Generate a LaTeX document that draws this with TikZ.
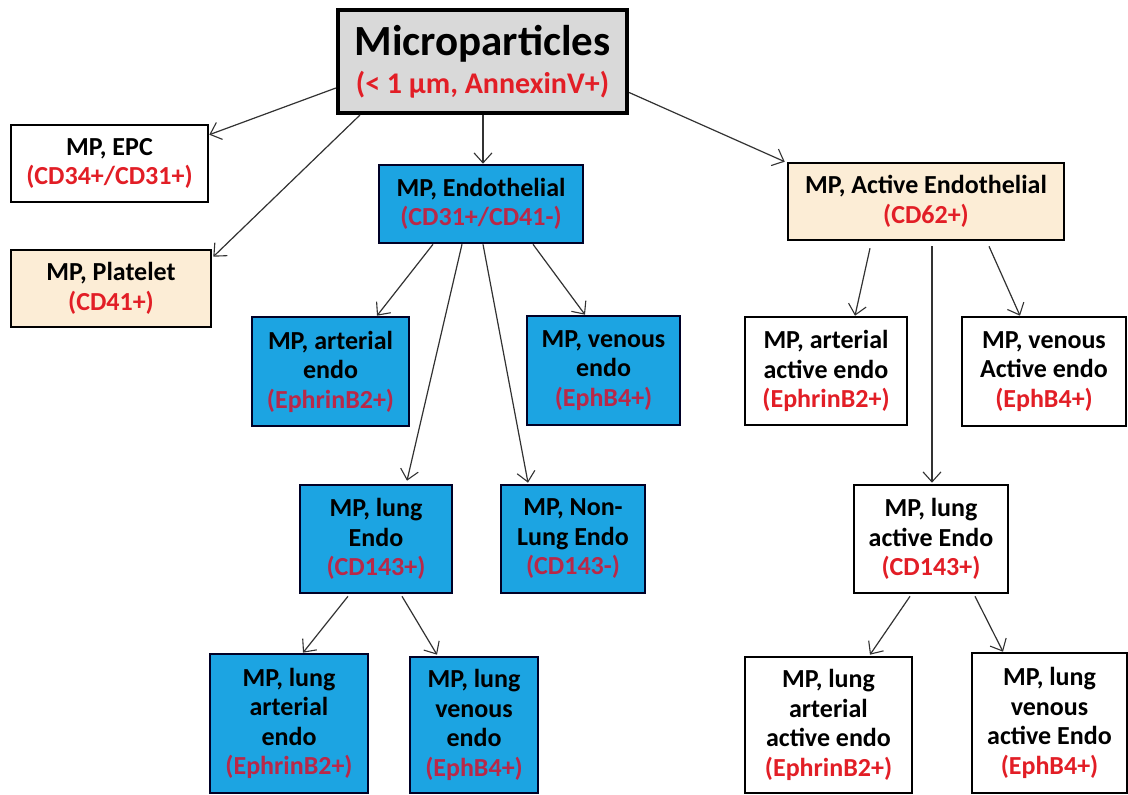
\documentclass[tikz,border=0pt]{standalone}
\usepackage{fontspec}
\setmainfont{Carlito}
\usetikzlibrary{arrows.meta,calc}
\definecolor{bluebox}{RGB}{28,164,226}
\definecolor{creambox}{RGB}{252,237,214}
\definecolor{graybox}{RGB}{217,217,217}
\definecolor{redtxt}{RGB}{226,30,38}
\definecolor{redblue}{RGB}{185,40,72}
\definecolor{arrowcol}{RGB}{50,50,50}
\newcommand{\rt}[1]{\textcolor{redtxt}{#1}}
\newcommand{\rb}[1]{\textcolor{redblue}{#1}}
\tikzset{
  box/.style={draw=black, line width=2.6pt, rectangle, inner sep=0pt, align=center,
    font=\fontsize{26}{29.5}\selectfont\bfseries},
  whitebox/.style={box, fill=white},
  bluefill/.style={box, fill=bluebox, draw=black!85!blue},
  creamfill/.style={box, fill=creambox},
  conn/.style={draw=arrowcol, line width=1.2pt, -{Straight Barb[length=10pt,width=18pt,line width=1.1pt]}}
}
\begin{document}
\begin{tikzpicture}[x=1pt,y=-1pt]
\useasboundingbox[fill=white] (0,0) rectangle (1128,795);
% top
\node[box, fill=graybox, line width=4.2pt, minimum width=289pt, minimum height=103pt] (mp) at (482.5,61.5)
  {{\fontsize{43}{44}\selectfont Microparticles}\\[9pt]{\fontsize{30}{32}\selectfont\rt{(< 1 µm, AnnexinV+)}}};
% left column
\node[whitebox, minimum width=197pt, minimum height=77pt] (epc) at (109.5,163.5)
  {MP, EPC\\\rt{(CD34+/CD31+)}};
\node[creamfill, minimum width=200pt, minimum height=77pt] (plt) at (111,288.5)
  {MP, Platelet\\\rt{(CD41+)}};
% endothelial branch
\node[bluefill, minimum width=204pt, minimum height=78pt] (endo) at (481,204)
  {MP, Endothelial\\\rb{(CD31+/CD41-)}};
\node[bluefill, minimum width=157pt, minimum height=109pt] (art) at (330.5,371.5)
  {MP, arterial\\endo\\\rb{(EphrinB2+)}};
\node[bluefill, minimum width=153pt, minimum height=109pt] (ven) at (603.5,370.5)
  {MP, venous\\endo\\\rb{(EphB4+)}};
\node[bluefill, minimum width=152pt, minimum height=108pt] (lung) at (376,539)
  {MP, lung\\Endo\\\rb{(CD143+)}};
\node[bluefill, minimum width=144pt, minimum height=108pt] (nonlung) at (573,539)
  {MP, Non-\\Lung Endo\\\rb{(CD143-)}};
\node[bluefill, minimum width=158pt, minimum height=139pt] (larte) at (289,723.5)
  {MP, lung\\arterial\\endo\\\rb{(EphrinB2+)}};
\node[bluefill, minimum width=128pt, minimum height=136pt] (lvene) at (474,725)
  {MP, lung\\venous\\endo\\\rb{(EphB4+)}};
% active branch
\node[creamfill, minimum width=276pt, minimum height=77pt] (act) at (926,201.5)
  {MP, Active Endothelial\\\rt{(CD62+)}};
\node[whitebox, minimum width=162pt, minimum height=108pt] (aact) at (826,371)
  {MP, arterial\\active endo\\\rt{(EphrinB2+)}};
\node[whitebox, minimum width=164pt, minimum height=109pt] (vact) at (1044,371.5)
  {MP, venous\\Active endo\\\rt{(EphB4+)}};
\node[whitebox, minimum width=154pt, minimum height=108pt] (lact) at (931,539)
  {MP, lung\\active Endo\\\rt{(CD143+)}};
\node[whitebox, minimum width=167pt, minimum height=136pt] (lartact) at (828.5,725)
  {MP, lung\\arterial\\active endo\\\rt{(EphrinB2+)}};
\node[whitebox, minimum width=155pt, minimum height=140pt] (lvenact) at (1049.5,723)
  {MP, lung\\venous\\active Endo\\\rt{(EphB4+)}};
% connectors
\draw[conn] ([yshift=-26.5pt]mp.west) -- ([yshift=-11pt]epc.north east);
\draw[conn] ([xshift=24pt]mp.south west) -- ([xshift=1pt,yshift=-8pt]plt.north east);
\draw[conn] ([xshift=0.5pt]mp.south) -- ([xshift=2pt]endo.north);
\draw[conn] ([yshift=-31pt]mp.east) -- ([xshift=-2pt]act.north west);
\draw[conn] ([xshift=-48pt]endo.south) -- ([xshift=46.5pt]art.north);
\draw[conn] ([xshift=-19pt]endo.south) -- ([xshift=31pt,yshift=3pt]lung.north);
\draw[conn] ([xshift=2pt]endo.south) -- ([xshift=-45pt,yshift=1pt]nonlung.north);
\draw[conn] ([xshift=52pt]endo.south) -- ([xshift=-18.5pt]ven.north);
\draw[conn] ([xshift=-56pt,yshift=-7pt]act.south) -- ([xshift=29pt]aact.north);
\draw[conn] ([xshift=6pt,yshift=-5pt]act.south) -- ([xshift=1pt,yshift=1pt]lact.north);
\draw[conn] ([xshift=63pt,yshift=-5pt]act.south) -- ([xshift=-24pt]vact.north);
\draw[conn] ([xshift=-28pt,yshift=-2pt]lung.south) -- ([xshift=14pt]larte.north);
\draw[conn] ([xshift=26pt,yshift=-2pt]lung.south) -- ([xshift=-37pt,yshift=1pt]lvene.north);
\draw[conn] ([xshift=-21pt,yshift=-2pt]lact.south) -- ([xshift=41.5pt,yshift=1pt]lartact.north);
\draw[conn] ([xshift=44pt,yshift=-2pt]lact.south) -- ([xshift=-46.5pt]lvenact.north);
\end{tikzpicture}
\end{document}
